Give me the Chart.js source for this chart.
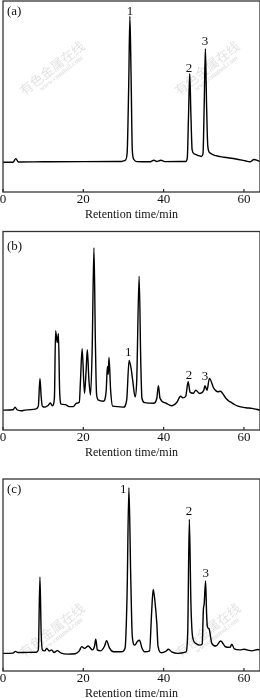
<!DOCTYPE html>
<html>
<head>
<meta charset="utf-8">
<script src="https://cdn.jsdelivr.net/npm/chart.js@4.4.0/dist/chart.umd.min.js"></script>
<style>
  html, body { margin: 0; padding: 0; background: #fff; overflow: hidden; width: 260px; height: 698px; }
  canvas { position: absolute; left: 0; }
</style>
</head>
<body>
<canvas id="chart-a" width="260" height="226" style="top:0px"></canvas>
<canvas id="chart-b" width="260" height="234" style="top:230px"></canvas>
<canvas id="chart-c" width="260" height="230" style="top:478px"></canvas>
<script>
// 保持時間 (min) と検出信号 (任意単位, 0-100)
const timeA = [0, 2.5, 3.2, 3.8, 10, 20, 29.5, 30.4, 30.9, 31.3, 31.6, 31.9, 32.2, 32.6, 33.3, 36.5, 37.6, 38.3, 39.3, 40.3,
  45.5, 45.9, 46.2, 46.5, 46.8, 47.1, 47.6, 48.5, 49.4, 49.8, 50.1, 50.4, 50.7, 51.0, 51.5, 53, 55, 58, 60.5, 61.5, 62.5, 63.3, 64];
const signalA = [15.6, 15.6, 17.5, 15.7, 15.8, 15.9, 16, 16.5, 20, 55, 92, 60, 22, 17, 15.9, 15.8, 16.6, 16.0, 16.6, 15.9,
  16, 18, 40, 62, 40, 22, 20, 19.2, 18.6, 20, 45, 75, 45, 24, 20.5, 19, 18.2, 17.3, 16.2, 15.8, 17, 16.6, 16];

const timeB = [0, 2.5, 3.0, 3.5, 4.5, 5.5, 8.0, 8.8, 9.2, 9.5, 9.8, 10.5, 11.3, 11.8, 12.3, 12.8, 13.1, 13.5, 13.8, 14.1, 14.5,
  15.5, 16.5, 17.5, 18.3, 19.0, 19.3, 19.7, 20.3, 20.7, 21.0, 21.4, 21.8, 22.2, 22.65, 23.0, 23.3, 23.8, 25.0, 25.7, 26.0,
  26.2, 26.4, 26.8, 27.3, 28.5, 30, 30.8, 31.4, 31.9, 32.3, 32.9, 33.3, 33.9, 34.3, 34.6, 35.3, 37.5, 38.3, 38.7, 39.1,
  40.5, 42, 43.3, 44.2, 44.8, 45.5, 46.1, 46.6, 47.4, 48.0, 49.0, 50.0, 50.3, 50.8, 51.4, 52.5, 53.5, 54.1, 55.5, 56.3,
  56.8, 57.5, 58.5, 60.5, 62, 64];
const signalB = [10, 10.2, 11.5, 10.2, 9.7, 10, 10.5, 12, 26, 17, 12, 11.5, 12.5, 13.6, 12.2, 16, 50, 44, 48.5, 20, 13,
  12.8, 11.8, 11.8, 13.5, 14, 25, 41, 18.4, 30, 40.5, 25, 17.6, 40, 91.8, 45, 18, 15, 14.5, 20, 32,
  28, 36.5, 20, 12, 11.8, 11.5, 15, 35, 31, 25, 16.7, 25, 77.5, 35, 16, 13.8, 13.5, 16, 22.3, 16,
  13.6, 12.2, 14, 17, 16.2, 17, 24.3, 19, 18.5, 20, 18.4, 20, 22.3, 20, 26, 21, 19.3, 19.5, 16, 14.5,
  13.9, 13, 12, 11.2, 10.9, 10];

const timeC = [0, 2.5, 3.1, 3.7, 8.3, 8.8, 9.2, 9.5, 9.8, 10.4, 10.9, 11.5, 12.1, 12.7, 13.5, 14.5, 16, 18, 19.0, 19.6,
  20.3, 21.2, 22.3, 22.8, 23.1, 23.5, 24.3, 25.3, 25.8, 26.5, 27.5, 29.5, 30.4, 30.9, 31.35, 31.8, 32.2, 32.8, 33.5, 34.0,
  34.6, 35.3, 36.5, 37.0, 37.4, 37.8, 38.3, 38.6, 39.5, 40.5, 41.2, 42, 43.5, 45.5, 46.0, 46.4, 46.8, 47.2, 48, 49,
  49.6, 49.9, 50.1, 50.45, 50.7, 50.9, 51.3, 52, 53, 54.2, 55.5, 56.5, 57.0, 57.6, 59, 60, 62, 63.5, 64];
const signalC = [9.2, 9.3, 10.2, 9.6, 9.8, 11, 49, 20, 11, 10.5, 11.8, 10.4, 11, 9.6, 10.6, 9.3, 8.8, 9, 10.5, 12.7,
  11.8, 13, 11, 13, 16.5, 11, 10.5, 13, 15.8, 12, 10, 10, 12, 40, 95.5, 50, 18, 13.5, 15.5, 16,
  12, 10, 10.5, 30, 42.5, 37, 25, 13, 9.5, 10.2, 11.3, 10, 9.2, 9.8, 20, 79, 35, 18, 14.4, 13.5,
  14, 32, 35, 46.9, 30, 23, 22, 14.4, 13, 15.6, 12.5, 12.3, 13.9, 11.5, 11, 11.3, 10.5, 11.2, 10.8];

// ピーク番号ラベル
const peakNames = ["1", "2", "3"];
const peakTimesA = [31.6, 46.3, 50.3];
const peakLevelsA = [94.5, 64.8, 78.6];
const peakTimesB = [31.2, 46.3, 50.3];
const peakLevelsB = [38.8, 27.6, 26.8];
const peakTimesC = [29.95, 46.3, 50.5];
const peakLevelsC = [94.3, 83, 50.9];

const xTicks = [0, 20, 40, 60];
const serif = '"Liberation Serif", "Times New Roman", serif';

// 透かし (有色金属在线)
function drawWatermark(ctx, cx, cy) {
  ctx.save();
  ctx.translate(cx, cy);
  ctx.rotate(-38 * Math.PI / 180);
  ctx.fillStyle = "rgba(120,120,120,0.22)";
  ctx.textAlign = "center";
  ctx.textBaseline = "middle";
  ctx.font = '13px "Noto Sans CJK SC"';
  ctx.fillText("有色金属在线", 0, 0);
  ctx.font = 'bold 7px ' + serif;
  ctx.fillText("www.cnnmol.com", 4, 10);
  ctx.restore();
}

function decorPlugin(tag, tagOffset, times, levels, marks) {
  return {
    id: "decor",
    beforeDatasetsDraw(chart) {
      marks.forEach(m => drawWatermark(chart.ctx, m[0], m[1]));
    },
    afterDraw(chart) {
      const { ctx, chartArea: a, scales: { x, y } } = chart;
      ctx.save();
      ctx.strokeStyle = "#333";
      ctx.lineWidth = 1.3;
      ctx.strokeRect(a.left, a.top, a.right - a.left, a.bottom - a.top);
      // 内向きの目盛り
      x.ticks.forEach(t => {
        const px = x.getPixelForValue(t.value);
        ctx.beginPath();
        ctx.moveTo(px, a.bottom);
        ctx.lineTo(px, a.bottom - 3);
        ctx.stroke();
      });
      ctx.fillStyle = "#111";
      ctx.font = "13px " + serif;
      ctx.textAlign = "center";
      ctx.textBaseline = "middle";
      times.forEach((t, i) => {
        ctx.fillText(peakNames[i], x.getPixelForValue(t), y.getPixelForValue(levels[i]));
      });
      ctx.textAlign = "left";
      ctx.fillText(tag, a.left + 4, a.top + tagOffset);
      ctx.restore();
    }
  };
}

function renderPanel(id, times, signal, padTop, padBottom, plugin) {
  const ctx = document.getElementById(id).getContext("2d");
  return new Chart(ctx, {
    type: "line",
    data: {
      datasets: [{
        data: times.map((t, i) => ({ x: t, y: signal[i] })),
        borderColor: "#000",
        borderWidth: 1.4,
        pointRadius: 0,
        fill: false,
        cubicInterpolationMode: "monotone"
      }]
    },
    options: {
      responsive: false,
      animation: false,
      layout: { padding: { left: 3, right: 0, top: padTop, bottom: padBottom } },
      plugins: { legend: { display: false }, tooltip: { enabled: false } },
      scales: {
        x: {
          type: "linear",
          min: 0,
          max: 64,
          afterBuildTicks: s => { s.ticks = xTicks.map(v => ({ value: v })); },
          afterFit: s => { s.paddingLeft = 0; s.paddingRight = 0; },
          grid: { display: false, drawTicks: false },
          border: { display: false },
          ticks: { color: "#111", padding: 1, maxRotation: 0, autoSkip: false,
                   font: { family: serif, size: 13, lineHeight: 1.0 } },
          title: { display: true, text: "Retention time/min", color: "#111",
                   padding: { top: 1, bottom: 0 }, font: { family: serif, size: 12 } }
        },
        y: { display: false, min: 0, max: 100 }
      }
    },
    plugins: [plugin]
  });
}

renderPanel("chart-a", timeA, signalA, 1, 3.6,
  decorPlugin("(a)", 10.5, peakTimesA, peakLevelsA, [[52, 68], [207, 68]]));
renderPanel("chart-b", timeB, signalB, 1.5, 3.6,
  decorPlugin("(b)", 15.5, peakTimesB, peakLevelsB, []));
renderPanel("chart-c", timeC, signalC, 1, 6.6,
  decorPlugin("(c)", 11, peakTimesC, peakLevelsC, [[52, 152], [208, 152]]));
</script>
</body>
</html>
